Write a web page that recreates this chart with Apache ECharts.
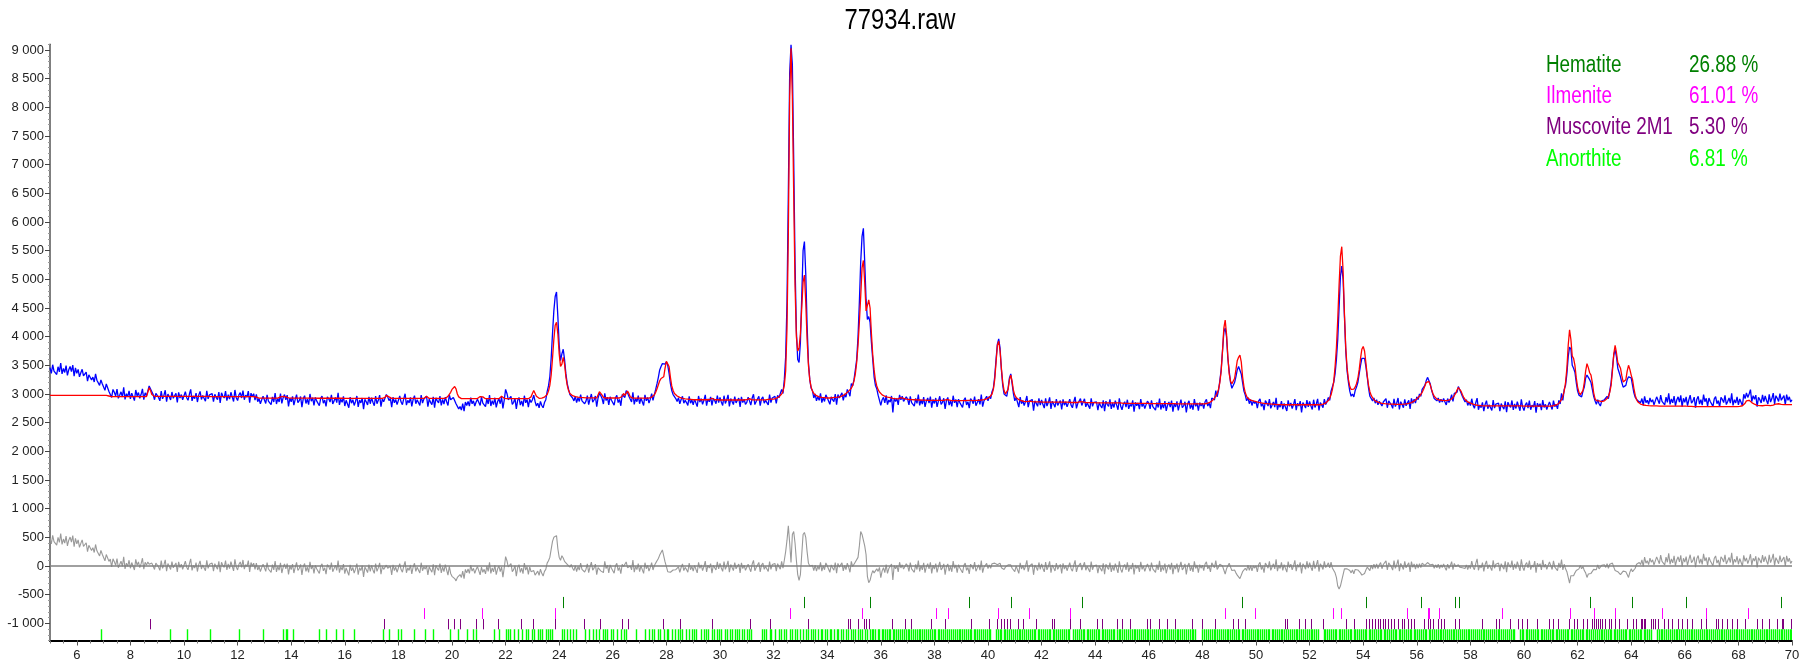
<!DOCTYPE html>
<html>
<head>
<meta charset="utf-8">
<script src="https://cdn.jsdelivr.net/npm/echarts@6/dist/echarts.min.js"></script>
<style>html,body{margin:0;padding:0;background:#fff}#chart{width:1815px;height:669px}</style>
</head>
<body>
<div id="chart"></div>
<script>
// ---------- DATA ----------
const chartTitle = '77934.raw';
const startAngle = 5.0;      // 2theta of first point
const stepSize = 0.05;       // scan step
// observed intensity (counts), one row per degree 2theta
const observed = [
3460,3360,3510,3400,3430,3340,3475,3385,3540,3350,3445,3375,3495,3325,3425,3480,3390,3505,3310,3455,
3360,3430,3300,3370,3430,3315,3335,3380,3225,3335,3365,3245,3295,3210,3350,3240,3270,3150,3245,3180,
3190,3065,3175,3195,3045,3075,2940,3080,3030,2965,3085,2925,2980,3038,2948,3116,2905,3005,2950,3055,
2915,3015,3040,2885,3070,2965,3025,2925,2995,3090,2900,3020,2970,3050,3140,3120,3040,2990,2900,3010,
3020,2940,2880,3050,2915,2975,3065,2865,3000,2950,2895,3035,2925,2970,3010,2855,3030,2930,2990,2900,
2910,3040,2935,2890,2995,3080,2880,2965,2920,3015,2860,2980,3045,2905,2975,2945,2875,3055,2915,2985,
2980,3005,2865,2995,2940,2900,3035,2845,3020,2965,2930,3050,2885,2990,2910,3030,2950,2870,3070,2935,
2885,2985,3025,2930,3060,2900,2980,2945,3050,2850,3015,2955,3005,2895,2995,2865,2920,2830,2900,2960,
2935,2835,2985,2875,2905,2815,2950,2860,3015,2825,2920,2860,3005,2835,2935,2990,2900,2980,2785,2930,
2865,2960,2805,2905,2990,2850,2885,2955,2770,2920,2970,2835,2910,2815,3000,2875,2935,2800,2940,2880,
2905,2795,2925,2965,2840,2895,2785,2950,2915,2860,2985,2825,2880,2940,2850,3020,2810,2910,2855,2960,
2790,2890,2915,2760,2945,2840,2900,2800,2870,2965,2775,2895,2845,2930,2735,2905,2865,2810,2950,2830,
2935,2855,2795,2965,2830,2890,2980,2780,2915,2865,2850,2990,2950,2885,2925,2770,2945,2845,2905,2815,
2835,2965,2860,2815,2920,3005,2805,2890,2845,2940,2785,2905,2970,2830,2900,2870,2800,2980,2840,2910,
2895,2960,2780,2910,2855,2815,2950,2760,2935,2880,2845,2965,2800,2905,2825,2945,2865,2800,2985,2900,
2900,2940,2910,2830,2800,2740,2780,2720,2830,2700,2860,2800,2870,2790,2935,2830,2880,2790,2860,2910,
2900,2800,2950,2840,2870,2780,2915,2825,2980,2790,2885,2815,2935,2765,2865,2920,2830,2945,2750,2895,
3080,3010,2900,2875,2960,2820,2855,2925,2740,2890,2940,2805,2880,2785,2970,2845,2905,2770,2910,2850,
2900,2980,2870,2790,2840,2760,2870,2800,2760,2850,2900,3040,3140,3300,3620,4050,4450,4700,4780,4350,
3850,3580,3700,3780,3600,3350,3180,3080,2990,3010,2930,2880,2960,2850,2935,2870,2990,2880,2905,2830,
2875,2970,2815,2915,3000,2860,2895,2965,2780,2930,3010,2975,2920,2825,3010,2885,2945,2810,2950,2890,
2915,2805,2935,2975,2850,2905,2795,2990,3000,2940,3060,3020,2960,2950,2860,3030,2820,2920,2865,2970,
2830,2930,2955,2800,2985,2880,2940,2840,2910,3005,2890,2990,3080,3180,3290,3420,3480,3530,3550,3520,
3560,3500,3360,3180,3060,2990,2960,2920,2870,2935,2830,2905,2960,2840,2890,2850,2800,2960,2840,2895,
2810,2910,2935,2780,2965,2860,2920,2820,2890,2985,2795,2915,2865,2950,2800,2925,2885,2830,2970,2850,
2940,2860,2800,2970,2835,2895,2985,2785,2920,2870,2815,2955,2845,2890,2930,2775,2950,2850,2910,2820,
2855,2945,2880,2805,2930,2995,2815,2870,2855,2960,2795,2915,2950,2840,2890,2880,2810,2990,2850,2930,
2935,2960,2835,2975,2935,2915,3080,3010,3250,3650,4600,6500,8600,9090,8750,7100,5300,4100,3600,3550,
3900,4700,5500,5660,5100,4200,3550,3250,3100,3060,2930,3000,2880,2955,2890,3010,2850,2940,2870,2985,
2935,2960,2820,2950,2900,2865,3000,2815,2990,2930,2910,3020,2890,3000,2945,3080,3030,2960,3180,3140,
3250,3420,3600,4000,4600,5300,5750,5890,5300,4650,4300,4350,4250,3900,3600,3300,3150,3090,2980,3010,
2800,2900,2940,2845,2975,2815,2895,2860,2965,2680,2930,2870,2920,2810,2985,2900,2960,2870,2890,2950,
2910,2810,2960,2850,2880,2790,2925,2835,2990,2800,2895,2825,2945,2775,2875,2930,2840,2955,2760,2905,
2835,2930,2775,2875,2960,2820,2855,2925,2740,2890,2940,2805,2880,2785,2970,2845,2905,2770,2910,2850,
2875,2765,2895,2935,2810,2865,2755,2920,2885,2830,2955,2795,2850,2910,2820,2990,2780,2880,2870,2960,
2880,2960,2920,3040,3100,3300,3600,3870,3960,3800,3420,3150,3000,2980,2960,3100,3280,3350,3180,3000,
2880,2940,2940,2770,2945,2830,2885,2800,2870,2965,2770,2875,2845,2905,2710,2880,2840,2785,2925,2805,
2895,2815,2755,2925,2790,2850,2940,2740,2875,2825,2770,2910,2800,2845,2885,2730,2905,2805,2865,2775,
2780,2910,2805,2760,2865,2950,2750,2835,2820,2920,2800,2860,2915,2775,2845,2815,2745,2925,2785,2855,
2835,2860,2720,2850,2795,2755,2890,2700,2875,2820,2785,2905,2740,2845,2765,2885,2805,2725,2925,2790,
2725,2825,2865,2770,2900,2740,2820,2785,2890,2690,2855,2795,2845,2735,2910,2780,2835,2745,2815,2875,
2840,2740,2890,2780,2810,2720,2855,2765,2920,2730,2825,2755,2875,2705,2805,2860,2770,2885,2690,2835,
2775,2870,2715,2815,2900,2760,2795,2865,2680,2830,2880,2745,2820,2725,2910,2785,2845,2710,2850,2790,
2840,2745,2865,2905,2790,2845,2755,2930,2920,2895,3060,2950,3060,3230,3420,3750,4080,4150,4000,3620,
3400,3200,3100,3120,3200,3300,3420,3480,3460,3350,3200,3050,2980,2880,2940,2830,2900,2800,2880,2835,
2870,2755,2880,2915,2785,2835,2720,2885,2845,2790,2910,2750,2805,2860,2770,2935,2725,2825,2770,2875,
2735,2835,2860,2705,2890,2785,2845,2745,2815,2910,2720,2840,2790,2875,2680,2850,2810,2755,2895,2775,
2870,2790,2730,2900,2765,2825,2915,2715,2850,2810,2760,2910,2815,2870,2940,2890,3050,3040,3200,3350,
3600,3950,4500,5050,5230,5000,4350,3750,3400,3200,3050,2960,3000,2950,3060,3120,3200,3350,3500,3620,
3650,3620,3480,3300,3100,2960,2990,2880,2930,2840,2900,2810,2870,2900,2790,2860,2830,2920,2760,2880,
2890,2810,2750,2915,2780,2840,2930,2730,2865,2815,2760,2905,2795,2845,2890,2740,2925,2835,2910,2840,
2950,2900,3000,2960,3080,3110,3150,3230,3290,3260,3180,3070,3040,2920,2950,2880,2930,2850,2910,2860,
2920,2860,2810,2920,2850,2905,2990,2870,3010,3000,3030,3130,3080,3060,2960,2930,2860,2900,2800,2860,
2797,2917,2802,2750,2848,2928,2725,2808,2761,2855,2699,2819,2884,2744,2814,2784,2714,2894,2754,2824,
2817,2842,2702,2832,2777,2737,2872,2682,2857,2802,2767,2887,2722,2827,2747,2867,2787,2707,2907,2772,
2710,2810,2850,2755,2885,2725,2805,2770,2875,2675,2840,2780,2830,2720,2895,2765,2820,2730,2800,2860,
2830,2730,2885,2780,2820,2740,2890,2825,3010,2890,3080,3150,3350,3650,3820,3780,3500,3450,3380,3200,
3050,2980,3000,2950,3050,3120,3280,3330,3320,3250,3200,3080,2960,2880,2820,2900,2830,2790,2880,2850,
2900,2870,2960,2920,3060,3200,3450,3680,3770,3650,3450,3420,3300,3200,3120,3100,3150,3250,3300,3320,
3280,3150,3020,2940,2930,2880,2900,2850,2920,2800,2960,2850,2890,2820,2930,2860,2900,2810,2880,2950,
2930,2830,2980,2870,2900,2810,2945,2855,3010,2820,2915,2845,2965,2795,2895,2950,2860,2975,2780,2925,
2855,2950,2795,2895,2980,2840,2875,2945,2760,2910,2960,2825,2900,2805,2990,2865,2925,2790,2930,2870,
2895,2785,2915,2955,2830,2885,2775,2940,2905,2850,2975,2815,2870,2930,2840,3010,2800,2900,2845,2950,
2812,2914,2943,2795,2995,2920,3020,2940,3000,3075,2865,2970,2907,2980,2777,2943,2901,2845,2985,2868,
2965,2887,2825,2993,2858,2920,3015,2825,2970,2925,2870,3005,2890,2933,2970,2815,2990,2890,2950,2860,
2900
];
// calculated (Rietveld fit) intensity, same grid
const calculated = [
2975,2975,2975,2975,2975,2975,2975,2975,2975,2975,2975,2975,2975,2975,2975,2975,2975,2975,2975,2975,
2975,2975,2975,2975,2975,2975,2975,2975,2975,2975,2975,2975,2975,2975,2975,2975,2975,2975,2975,2975,
2975,2975,2975,2975,2965,2955,2955,2955,2955,2955,2955,2955,2955,2955,2955,2955,2955,2955,2955,2955,
2955,2955,2955,2955,2955,2955,2955,2955,2955,2955,2955,2955,2955,2980,3110,3060,2990,2965,2960,2958,
2957,2957,2957,2957,2957,2957,2957,2957,2957,2957,2957,2957,2957,2957,2957,2957,2957,2957,2957,2957,
2957,2957,2957,2957,2957,2957,2957,2957,2957,2957,2957,2957,2957,2957,2957,2957,2957,2957,2957,2957,
2955,2955,2955,2955,2955,2955,2955,2955,2955,2955,2955,2955,2955,2955,2955,2955,2955,2955,2955,2955,
2955,2955,2955,2955,2955,2955,2955,2955,2955,2955,2955,2955,2955,2955,2945,2935,2928,2928,2928,2928,
2928,2928,2928,2928,2928,2928,2928,2928,2928,2928,2928,2935,2950,2958,2958,2955,2950,2940,2932,2928,
2928,2928,2928,2928,2928,2928,2928,2928,2928,2928,2928,2928,2928,2928,2928,2928,2928,2928,2928,2928,
2926,2926,2926,2926,2926,2926,2926,2926,2926,2926,2926,2926,2926,2926,2926,2926,2926,2926,2926,2926,
2925,2925,2925,2925,2925,2925,2925,2925,2925,2925,2925,2925,2925,2925,2925,2925,2925,2925,2925,2925,
2924,2924,2924,2924,2924,2924,2924,2924,2924,2924,2940,2975,2990,2950,2930,2924,2924,2924,2924,2924,
2923,2923,2923,2923,2923,2923,2923,2923,2923,2923,2923,2923,2923,2923,2923,2923,2923,2923,2923,2923,
2950,2960,2935,2922,2922,2922,2922,2922,2922,2922,2922,2922,2922,2922,2922,2922,2935,2960,2990,3030,
3080,3110,3130,3090,3000,2950,2930,2920,2920,2920,2920,2920,2920,2920,2920,2920,2920,2920,2920,2920,
2930,2955,2970,2950,2928,2918,2918,2918,2918,2918,2918,2918,2918,2918,2918,2918,2930,2960,2945,2925,
2918,2918,2918,2918,2918,2918,2918,2918,2918,2918,2918,2918,2918,2918,2918,2918,2918,2918,2925,2950,
3010,3060,3030,2960,2930,2925,2925,2928,2935,2945,2960,2990,3050,3150,3330,3620,3950,4200,4250,4050,
3700,3480,3520,3640,3520,3300,3150,3060,3010,2985,2970,2960,2955,2950,2945,2942,2940,2938,2936,2935,
2932,2932,2932,2932,2932,2932,2932,2932,2932,2960,3040,3060,2980,2940,2930,2930,2930,2930,2930,2930,
2930,2930,2930,2930,2930,2930,2930,2960,3010,2975,2990,3050,3010,2950,2928,2928,2928,2928,2928,2928,
2928,2928,2928,2928,2928,2928,2928,2928,2935,2945,2960,2985,3030,3090,3160,3230,3270,3250,3300,3450,
3570,3600,3480,3290,3140,3060,3010,2985,2965,2950,2940,2932,2925,2920,2915,2912,2910,2908,2905,2903,
2900,2900,2900,2900,2900,2900,2900,2900,2900,2900,2900,2900,2900,2910,2925,2915,2900,2900,2900,2900,
2895,2895,2895,2895,2895,2895,2895,2895,2895,2895,2895,2895,2895,2895,2895,2895,2895,2895,2895,2895,
2900,2915,2920,2905,2898,2898,2898,2898,2898,2898,2898,2898,2898,2898,2898,2898,2905,2915,2910,2905,
2910,2915,2925,2935,2950,2970,3000,3050,3150,3400,4150,5800,8200,9030,8200,6500,4900,4000,3750,3800,
4050,4500,4950,5075,4600,3950,3500,3250,3120,3050,3010,2985,2970,2960,2950,2945,2940,2938,2935,2932,
2930,2930,2930,2932,2935,2938,2940,2942,2945,2950,2955,2965,2975,2990,3010,3030,3050,3070,3100,3150,
3230,3350,3550,3850,4250,4700,5200,5330,4950,4450,4480,4640,4500,4050,3680,3420,3240,3140,3075,3035,
3005,2985,2970,2960,2952,2945,2940,2935,2930,2925,2920,2918,2915,2915,2920,2935,2940,2925,2912,2910,
2905,2904,2903,2902,2900,2900,2898,2897,2896,2895,2894,2893,2892,2892,2891,2890,2890,2890,2890,2890,
2888,2888,2888,2888,2888,2888,2888,2888,2890,2900,2905,2895,2886,2886,2886,2886,2886,2886,2886,2886,
2885,2885,2885,2885,2885,2890,2895,2888,2885,2885,2886,2887,2888,2890,2892,2895,2898,2902,2908,2915,
2925,2940,2960,3000,3080,3250,3550,3850,3920,3750,3450,3200,3060,3000,3000,3080,3250,3330,3220,3060,
2980,2940,2915,2900,2890,2882,2876,2872,2870,2868,2870,2875,2872,2866,2864,2864,2864,2864,2864,2864,
2858,2858,2858,2858,2858,2858,2858,2858,2858,2858,2858,2858,2858,2858,2858,2858,2858,2858,2858,2858,
2852,2852,2852,2852,2852,2852,2852,2852,2858,2868,2872,2862,2850,2850,2850,2850,2850,2850,2850,2850,
2845,2845,2845,2845,2845,2845,2845,2845,2845,2845,2845,2845,2845,2845,2845,2845,2845,2845,2845,2845,
2838,2838,2838,2838,2838,2838,2838,2838,2838,2838,2838,2838,2838,2838,2838,2838,2838,2838,2838,2838,
2832,2832,2832,2832,2832,2832,2832,2832,2832,2832,2832,2832,2832,2832,2832,2832,2832,2832,2832,2832,
2828,2828,2828,2828,2828,2828,2828,2828,2828,2828,2828,2828,2828,2828,2828,2828,2828,2828,2828,2828,
2826,2828,2830,2834,2840,2848,2860,2875,2895,2925,2965,3010,3080,3200,3400,3750,4150,4290,4050,3650,
3350,3220,3180,3190,3270,3420,3580,3640,3680,3560,3300,3130,3020,2960,2925,2905,2893,2885,2878,2872,
2866,2860,2855,2850,2846,2842,2838,2835,2832,2830,2828,2826,2824,2822,2820,2818,2816,2815,2814,2813,
2812,2812,2812,2812,2812,2812,2812,2812,2812,2812,2812,2812,2812,2812,2812,2812,2812,2812,2812,2812,
2812,2812,2812,2812,2812,2812,2812,2812,2812,2816,2822,2830,2842,2860,2885,2925,2985,3075,3220,3470,
3800,4300,4900,5400,5570,5150,4400,3800,3450,3250,3130,3080,3070,3085,3120,3180,3270,3420,3620,3780,
3830,3750,3550,3320,3150,3040,2975,2935,2900,2880,2865,2855,2848,2842,2838,2835,2832,2830,2828,2826,
2825,2824,2823,2822,2821,2820,2820,2820,2820,2821,2822,2824,2827,2830,2835,2842,2850,2860,2875,2895,
2915,2935,2960,2990,3030,3080,3140,3200,3230,3220,3160,3080,3010,2960,2930,2910,2900,2895,2890,2888,
2886,2885,2885,2887,2892,2900,2915,2935,2965,3010,3070,3110,3100,3050,2990,2940,2905,2880,2862,2850,
2842,2832,2822,2815,2808,2803,2800,2798,2796,2795,2794,2794,2794,2794,2794,2794,2794,2794,2794,2794,
2792,2792,2792,2792,2792,2792,2792,2792,2792,2792,2792,2792,2792,2792,2792,2792,2792,2792,2792,2792,
2790,2790,2790,2790,2790,2790,2790,2790,2790,2790,2790,2790,2790,2790,2790,2790,2790,2790,2790,2790,
2790,2792,2795,2800,2808,2820,2835,2860,2900,2960,3050,3200,3450,3850,4120,3950,3660,3620,3500,3280,
3120,3030,2990,3000,3060,3200,3400,3530,3460,3370,3330,3200,3020,2920,2885,2880,2880,2872,2868,2870,
2880,2895,2920,2960,3030,3150,3400,3700,3850,3720,3550,3500,3450,3320,3210,3190,3250,3400,3500,3430,
3330,3250,3100,2980,2900,2860,2840,2825,2815,2808,2804,2800,2798,2796,2795,2794,2793,2792,2792,2792,
2790,2790,2790,2790,2790,2790,2790,2790,2790,2790,2790,2790,2790,2790,2790,2790,2790,2790,2790,2790,
2788,2787,2786,2785,2784,2783,2782,2781,2780,2780,2779,2779,2778,2778,2778,2778,2778,2778,2778,2778,
2780,2780,2780,2780,2780,2780,2780,2780,2780,2780,2780,2780,2780,2780,2780,2780,2780,2780,2780,2780,
2782,2784,2788,2795,2810,2840,2880,2900,2890,2870,2850,2835,2822,2810,2802,2798,2796,2795,2795,2798,
2800,2802,2800,2798,2798,2800,2805,2815,2825,2830,2830,2825,2820,2818,2815,2815,2815,2815,2815,2815,
2815
];

// reflection positions (2theta) per phase
const phaseNames = ['Hematite', 'Ilmenite', 'Muscovite 2M1', 'Anorthite'];
const phaseWeights = [26.88, 61.01, 5.30, 6.81];
const phaseColors = ['#008000', '#ff00ff', '#800080', '#00ff00'];
const hematiteTicks = [24.14, 33.15, 35.61, 39.28, 40.85, 43.52, 49.48, 54.09, 56.15, 57.43, 57.59, 62.45, 64.03, 66.03, 69.6];
const ilmeniteTicks = [18.94, 21.11, 23.85, 32.6, 35.31, 38.05, 38.5, 40.37, 41.53, 43.05, 48.85, 49.98, 52.86, 53.18, 55.64, 56.41, 56.47, 56.84, 59.19, 61.7, 62.62, 63.4, 65.15, 66.8, 68.35];
const muscoviteTicks = [8.72, 17.46, 19.84, 20.08, 20.29, 20.89, 21.15, 21.71, 22.58, 23.03, 23.85, 24.94, 25.54, 26.36, 26.55, 27.86, 28.5, 29.72, 31.11, 31.86, 33.3, 34.76, 34.86, 35.16, 35.36, 35.44, 35.55, 36.43,
  36.91, 37.13, 37.87, 38.41, 39.37, 40.05, 40.33, 40.48, 40.59, 40.72, 40.83, 41.12, 41.31, 41.79, 42.38, 42.47, 43.05, 43.45, 44.06, 44.25, 44.82, 44.99, 45.3, 45.93, 46.06, 46.37, 46.67, 46.98, 47.63, 48.0, 48.46, 49.15, 49.31, 49.59,
  51.07, 51.16, 51.62, 51.81, 52.05, 52.49, 53.36, 53.66, 54.1, 54.23, 54.34, 54.43, 54.56, 54.64, 54.73, 54.82, 54.93, 55.04, 55.15, 55.3, 55.43, 55.52, 55.69, 55.8, 55.91, 56.28, 56.41, 56.5, 56.61, 56.78, 56.89, 57.0, 57.43, 57.56,
  58.44, 58.94, 59.07, 59.46, 59.76, 59.94, 60.11, 60.48, 60.94, 61.09, 61.25, 61.68, 61.88, 61.99, 62.19, 62.36, 62.53, 62.62, 62.69, 62.75, 62.84, 62.92, 63.02, 63.18, 63.25, 63.4, 63.56, 63.86, 64.06, 64.18, 64.37, 64.42, 64.47, 64.52,
  64.74, 64.83, 64.89, 65.01, 65.24, 65.37, 65.51, 65.76, 65.91, 66.07, 66.26, 66.59, 66.78, 67.18, 67.25, 67.38, 67.57, 67.75, 67.94, 68.25, 68.71, 68.89, 69.15, 69.44, 69.61, 69.68, 69.95];
const anorthiteTicks = [6.9, 9.47, 10.11, 10.97, 12.04, 12.94, 13.69, 13.8, 13.86, 14.08, 15.04, 15.3, 15.69, 15.92, 16.33, 17.42, 17.64, 18.0, 18.08, 18.58, 19.01, 19.28, 19.91, 20.23, 20.57, 20.78, 20.89, 21.56, 21.75,
  22.01, 22.09, 22.18, 22.32, 22.45, 22.6, 22.77, 22.84, 23.0, 23.05, 23.2, 23.3, 23.36, 23.52, 23.6, 23.66, 23.74, 24.1, 24.18, 24.28, 24.4, 24.52, 24.63, 24.95, 25.12, 25.27, 25.36, 25.5, 25.62, 25.7, 25.8, 25.92,
  26.02, 26.15, 26.3, 26.42, 26.5, 26.85, 27.2, 27.35, 27.45, 27.52, 27.68, 27.77, 27.92, 28.02, 28.06, 28.2, 28.32, 28.45, 28.5, 28.6, 28.72, 28.85, 28.95, 29.02, 29.12, 29.3, 29.42, 29.48, 29.56, 29.7, 29.78, 29.9, 29.98,
  30.05, 30.18, 30.25, 30.36, 30.45, 30.55, 30.62, 30.7, 30.82, 30.9, 31.0, 31.08, 31.15, 31.55, 31.65, 31.72, 31.85, 31.92, 32.05, 32.2, 32.28, 32.4, 32.48, 32.6, 32.7, 32.8, 32.88, 33.0, 33.08, 33.2, 33.3, 33.38, 33.48,
  33.55, 33.65, 33.75, 33.82, 33.9, 34.0, 34.1, 34.15, 34.25, 34.35, 34.42, 34.5, 34.6, 34.7, 34.78, 34.88, 34.95, 35.05, 35.15, 35.22, 35.3, 35.42, 35.5, 35.58, 35.66, 35.72, 35.8, 35.88, 35.95,
  36.03, 36.1, 36.15, 36.24, 36.3, 36.36, 36.45, 36.5, 36.57, 36.66, 36.72, 36.78, 36.86, 36.93,
  37.0, 37.06, 37.14, 37.2, 37.27, 37.34, 37.42, 37.48, 37.55, 37.63, 37.7, 37.76, 37.84, 37.92, 37.97,
  38.04, 38.12, 38.18, 38.25, 38.33, 38.4, 38.46, 38.55, 38.61, 38.68, 38.75, 38.83, 38.9, 38.96,
  39.03, 39.1, 39.17, 39.25, 39.31, 39.38, 39.46, 39.52, 39.6, 39.67, 39.73, 39.8, 39.88, 39.95,
  40.02, 40.08, 40.3, 40.36, 40.44, 40.5, 40.58, 40.65, 40.72, 40.8, 40.86, 40.93,
  41.0, 41.07, 41.14, 41.2, 41.28, 41.35, 41.42, 41.48, 41.56, 41.63, 41.7, 41.77, 41.85, 41.92, 41.98,
  42.05, 42.12, 42.2, 42.26, 42.33, 42.41, 42.48, 42.55, 42.62, 42.7, 42.76, 42.84, 42.9, 42.97,
  43.04, 43.18, 43.25, 43.32, 43.4, 43.46, 43.53, 43.6, 43.68, 43.74, 43.82, 43.88, 43.95,
  44.02, 44.1, 44.16, 44.24, 44.3, 44.38, 44.45, 44.52, 44.58, 44.66, 44.72, 44.8, 44.87, 44.94,
  45.0, 45.08, 45.15, 45.22, 45.28, 45.36, 45.43, 45.5, 45.56, 45.64, 45.7, 45.78, 45.85, 45.92, 45.98,
  46.06, 46.13, 46.2, 46.27, 46.34, 46.4, 46.48, 46.55, 46.62, 46.68, 46.76, 46.83, 46.9, 46.96,
  47.04, 47.1, 47.18, 47.25, 47.32, 47.38, 47.46, 47.52, 47.6, 47.66, 47.74,
  48.0, 48.06, 48.14, 48.2, 48.28, 48.35, 48.42, 48.48, 48.56, 48.62, 48.7, 48.77, 48.84, 48.9, 48.97,
  49.04, 49.1, 49.18, 49.25, 49.32, 49.38, 49.46, 49.53, 49.6, 49.68, 49.74, 49.82, 49.88, 49.95,
  50.02, 50.08, 50.16, 50.22, 50.3, 50.37, 50.44, 50.5, 50.58, 50.64, 50.72, 50.78, 50.86, 50.92, 50.98,
  51.06, 51.12, 51.2, 51.27, 51.34, 51.4, 51.48, 51.54, 51.62, 51.68, 51.76, 51.82, 51.9, 51.96,
  52.04, 52.1, 52.18, 52.25, 52.32, 52.52, 52.58, 52.66, 52.72, 52.8, 52.86, 52.94,
  53.0, 53.08, 53.14, 53.22, 53.28, 53.36, 53.42, 53.5, 53.56, 53.64, 53.7, 53.78, 53.84, 53.92, 53.98,
  54.06, 54.12, 54.2, 54.26, 54.34, 54.4, 54.48, 54.54, 54.62, 54.68, 54.76, 54.82, 54.9, 54.96,
  55.04, 55.1, 55.18, 55.24, 55.32, 55.38, 55.46, 55.52, 55.6, 55.66, 55.74, 55.8, 55.88, 55.94,
  56.02, 56.08, 56.16, 56.22, 56.3, 56.36, 56.44, 56.5, 56.58, 56.64, 56.72, 56.78, 56.86, 56.92, 56.98,
  57.06, 57.12, 57.2, 57.26, 57.34, 57.4, 57.48, 57.54, 57.62, 57.68, 57.76, 57.82, 57.9, 57.96,
  58.04, 58.1, 58.18, 58.24, 58.32, 58.38, 58.46, 58.52, 58.6, 58.66, 58.74, 58.8, 58.88, 58.94,
  59.02, 59.08, 59.16, 59.22, 59.3, 59.36, 59.44, 59.5, 59.58, 59.64, 59.86, 59.92, 59.98,
  60.06, 60.12, 60.2, 60.26, 60.34, 60.4, 60.48, 60.54, 60.62, 60.68, 60.76, 60.82, 60.9, 60.96,
  61.04, 61.1, 61.18, 61.24, 61.32, 61.38, 61.46, 61.52, 61.6, 61.66, 61.74, 61.8, 61.88, 61.94,
  62.02, 62.08, 62.16, 62.22, 62.3, 62.36, 62.44, 62.5, 62.58, 62.64, 62.72, 62.78, 62.86, 62.92, 62.98,
  63.06, 63.12, 63.2, 63.26, 63.34, 63.4, 63.48, 63.54, 63.62, 63.68, 63.76, 63.82, 63.9, 63.96,
  64.04, 64.1, 64.18, 64.24, 64.32, 64.38, 64.46, 64.52, 64.6, 64.66, 64.74, 64.96,
  65.02, 65.1, 65.16, 65.24, 65.3, 65.38, 65.44, 65.52, 65.58, 65.66, 65.72, 65.8, 65.86, 65.94,
  66.0, 66.08, 66.14, 66.22, 66.28, 66.36, 66.42, 66.5, 66.56, 66.64, 66.7, 66.78, 66.84, 66.92, 66.98,
  67.06, 67.12, 67.2, 67.26, 67.34, 67.4, 67.48, 67.54, 67.62, 67.68, 67.76, 67.82, 67.9, 67.96,
  68.04, 68.1, 68.18, 68.24, 68.32, 68.38, 68.46, 68.52, 68.6, 68.66, 68.74, 68.8, 68.88, 68.94,
  69.02, 69.08, 69.16, 69.22, 69.3, 69.36, 69.44, 69.5, 69.58, 69.64, 69.72, 69.78, 69.86, 69.92, 69.98];
// vertical band (intensity units) where each phase's reflection ticks are drawn
const tickBands = [[-540, -735], [-735, -925], [-925, -1105], [-1105, -1290]];
const xLabelValues = [6, 8, 10, 12, 14, 16, 18, 20, 22, 24, 26, 28, 30, 32, 34, 36, 38, 40, 42, 44, 46, 48, 50, 52, 54, 56, 58, 60, 62, 64, 66, 68, 70];
const yLabelValues = [-1000, -500, 0, 500, 1000, 1500, 2000, 2500, 3000, 3500, 4000, 4500, 5000, 5500, 6000, 6500, 7000, 7500, 8000, 8500, 9000];

// ---------- BUILD ----------
const FONT = '"Liberation Sans", Arial, sans-serif';
const NARROW = 0.82; // horizontal squeeze to imitate the narrow face of the original
const obsData = [], calcData = [], diffData = [];
for (let i = 0; i < observed.length; i++) {
  const x = +(startAngle + i * stepSize).toFixed(2);
  obsData.push([x, observed[i]]);
  calcData.push([x, calculated[i]]);
  diffData.push([x, observed[i] - calculated[i]]);
}
const tickLists = [hematiteTicks, ilmeniteTicks, muscoviteTicks, anorthiteTicks];
const tickWidths = [1, 1, 1, 1.4];

function fmtY(v) {
  const s = String(Math.abs(v)).replace(/\B(?=(\d{3})+(?!\d))/g, ' ');
  return (v < 0 ? '-' : '') + s;
}

const tickSeries = tickLists.map((list, k) => ({
  type: 'custom',
  name: phaseNames[k],
  xAxisIndex: 0, yAxisIndex: 0,
  silent: true,
  clip: true,
  data: list.map(x => [x, tickBands[k][0], tickBands[k][1]]),
  encode: { x: 0, y: [1, 2] },
  renderItem: function (params, api) {
    const p0 = api.coord([api.value(0), api.value(1)]);
    const p1 = api.coord([api.value(0), api.value(2)]);
    const px = Math.round(p0[0]) + 0.5;
    return {
      type: 'line',
      shape: { x1: px, y1: p0[1], x2: px, y2: p1[1] },
      style: { stroke: phaseColors[k], lineWidth: tickWidths[k] }
    };
  }
}));

const graphic = [{
  type: 'text', silent: true, x: 900, y: 21, scaleX: NARROW,
  style: { x: 0, y: 0, text: chartTitle, fill: '#000', fontSize: 29, fontFamily: FONT, align: 'center', verticalAlign: 'middle' }
}];
const legendY = [66, 97, 128, 160];
phaseNames.forEach((n, k) => {
  graphic.push({ type: 'text', silent: true, x: 1546, y: legendY[k], scaleX: NARROW,
    style: { x: 0, y: 0, text: n, fill: phaseColors[k], fontSize: 23, fontFamily: FONT, align: 'left', verticalAlign: 'middle' } });
  graphic.push({ type: 'text', silent: true, x: 1689, y: legendY[k], scaleX: NARROW,
    style: { x: 0, y: 0, text: phaseWeights[k].toFixed(2) + ' %', fill: phaseColors[k], fontSize: 23, fontFamily: FONT, align: 'left', verticalAlign: 'middle' } });
});

const chart = echarts.init(document.getElementById('chart'), null, { renderer: 'canvas' });
chart.setOption({
  animation: false,
  backgroundColor: '#fff',
  grid: { left: 50, right: 23, top: 44.3, bottom: 28.5, containLabel: false },
  graphic: graphic,
  xAxis: [
    { type: 'value', min: 5, max: 70, interval: 0.5, position: 'bottom',
      axisLine: { onZero: false, lineStyle: { color: '#000', width: 2 } },
      axisTick: { length: 3, lineStyle: { color: '#777' } },
      axisLabel: { show: false }, splitLine: { show: false } },
    { type: 'value', min: 5, max: 70, interval: 0.5, position: 'bottom', gridIndex: 0,
      axisLine: { show: false, onZero: false },
      axisTick: { customValues: xLabelValues, length: 5, lineStyle: { color: '#555' } },
      axisLabel: { customValues: xLabelValues, margin: 8, color: '#222', fontSize: 13, fontFamily: FONT },
      splitLine: { show: false } }
  ],
  yAxis: [
    { type: 'value', min: -1300, max: 9100, interval: 100, position: 'left',
      axisLine: { show: true, onZero: false, lineStyle: { color: '#555', width: 1.5 } },
      axisTick: { length: 2, lineStyle: { color: '#999' } },
      axisLabel: { show: false }, splitLine: { show: false } },
    { type: 'value', min: -1300, max: 9100, interval: 100, position: 'left', gridIndex: 0,
      axisLine: { show: false, onZero: false },
      axisTick: { customValues: yLabelValues, length: 5, lineStyle: { color: '#444' } },
      axisLabel: { customValues: yLabelValues, margin: 6, color: '#222', fontSize: 13, fontFamily: FONT, formatter: fmtY },
      splitLine: { show: false } }
  ],
  series: tickSeries.concat([
    { type: 'line', name: 'Difference', data: diffData, showSymbol: false, symbol: 'none', sampling: null,
      lineStyle: { color: '#999999', width: 1.1 }, silent: true, z: 3,
      markLine: { silent: true, symbol: 'none', label: { show: false },
        lineStyle: { color: '#808080', width: 1.5, type: 'solid' }, data: [{ yAxis: 0 }] } },
    { type: 'line', name: 'Observed', data: obsData, showSymbol: false, symbol: 'none',
      lineStyle: { color: '#0000ff', width: 1.3 }, silent: true, z: 4 },
    { type: 'line', name: 'Calculated', data: calcData, showSymbol: false, symbol: 'none',
      lineStyle: { color: '#ff0000', width: 1.3 }, silent: true, z: 5 }
  ])
});
</script>
</body>
</html>
